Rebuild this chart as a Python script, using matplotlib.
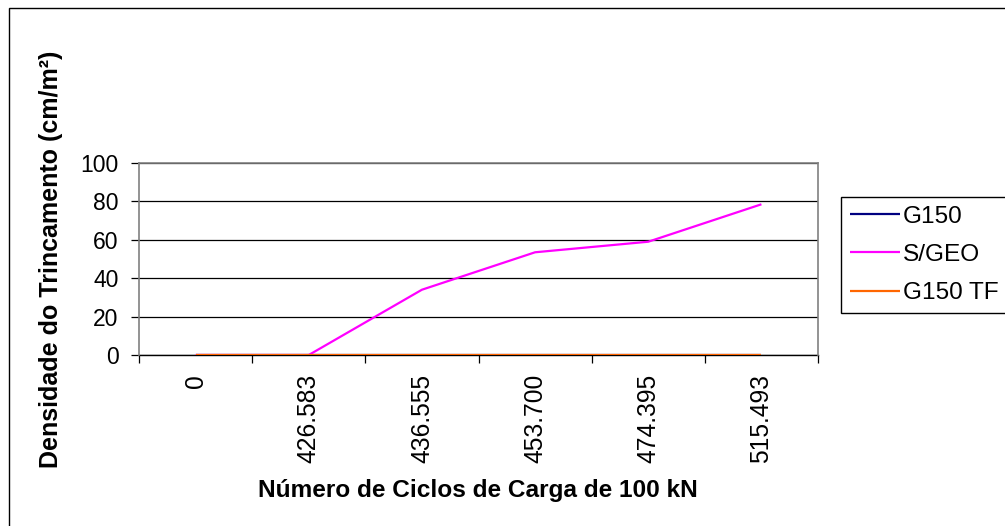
import matplotlib
matplotlib.use("Agg")
import matplotlib.pyplot as plt
from matplotlib.patches import Rectangle
import numpy as np

plt.rcParams["font.family"] = ["Liberation Sans", "DejaVu Sans"]

# ---------------------------------------------------------------------------
# data
# ---------------------------------------------------------------------------
ciclos = ["0", "426.583", "436.555", "453.700", "474.395", "515.493"]
g150 = [0, 0, 0, 0, 0, 0]
s_geo = [0, 0, 34, 53.5, 59, 78.5]
g150_tf = [0, 0, 0, 0, 0, 0]

series = [
    ("G150", g150, "#000080"),
    ("S/GEO", s_geo, "#FF00FF"),
    ("G150 TF", g150_tf, "#FF6600"),
]

W, H = 1005, 526
fig = plt.figure(figsize=(W / 100, H / 100), dpi=100)

# outer chart border (right / bottom edges fall outside the picture)
fig.patches.append(Rectangle((9 / W, -0.05), 1.1, 1 - 8 / H + 0.05,
                             transform=fig.transFigure, fill=False,
                             edgecolor="black", linewidth=1.0))

ax = fig.add_axes([139 / W, 1 - 355 / H, (818 - 139) / W, (355 - 163) / H])

x = np.arange(len(ciclos))
for name, vals, col in series:
    ax.plot(x, vals, color=col, linewidth=1.6, label=name, solid_capstyle="butt")

ax.set_xlim(-0.5, len(ciclos) - 0.5)
ax.set_ylim(0, 100)
ax.set_yticks(np.arange(0, 101, 20))
ax.yaxis.grid(True, color="black", linewidth=0.9)
ax.set_axisbelow(True)

# category boundaries carry the tick marks, centres carry the labels
ax.set_xticks(np.arange(-0.5, len(ciclos)), labels=[])
ax.set_xticks(x, labels=ciclos, minor=True, rotation=90, fontsize=17.7)
ax.tick_params(axis="x", which="major", direction="out", length=6, width=0.9)
ax.tick_params(axis="x", which="minor", length=0, pad=13.5)
ax.tick_params(axis="y", direction="out", length=5.8, width=0.9,
               labelsize=16.5, pad=9)

for side in ("top", "right", "left"):
    ax.spines[side].set_color("#808080")
    ax.spines[side].set_linewidth(1.2)
ax.spines["bottom"].set_color("black")
ax.spines["bottom"].set_linewidth(1.0)
ax.spines["bottom"].set_zorder(1)

fig.text(478 / W, 1 - 497 / H, "Número de Ciclos de Carga de 100 kN",
         fontsize=17.6, fontweight="bold", ha="center", va="baseline")
fig.text(51 / W, 1 - 259 / H, "Densidade do Trincamento (cm/m²)",
         fontsize=18, fontweight="bold", ha="center", va="center",
         rotation=90)

leg = fig.legend(loc="upper left", bbox_to_anchor=(841 / W, 1 - 197 / H),
                 fontsize=17.6, frameon=True, fancybox=False, shadow=False,
                 framealpha=1, edgecolor="black", handlelength=2.05,
                 handletextpad=0.12, borderpad=0.35, labelspacing=0.66,
                 borderaxespad=0)
leg.get_frame().set_linewidth(1.0)

fig.savefig("out.png", dpi=100)
